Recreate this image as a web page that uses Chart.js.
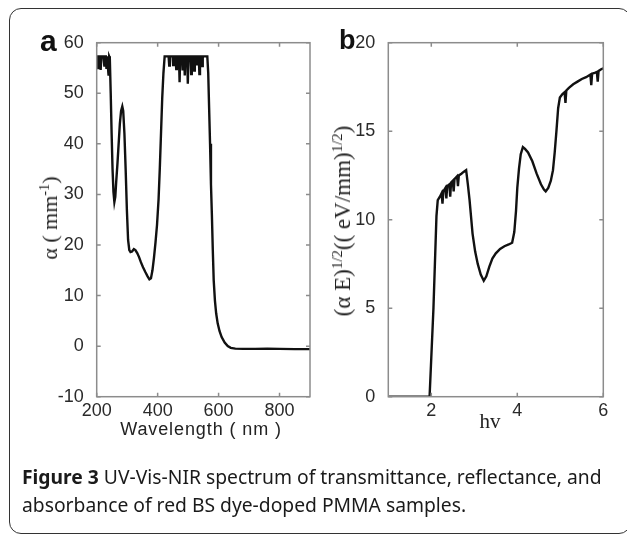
<!DOCTYPE html>
<html>
<head>
<meta charset="utf-8">
<script src="https://cdn.jsdelivr.net/npm/chart.js@4/dist/chart.umd.min.js"></script>
<style>
  html,body{margin:0;padding:0;background:#fff;}
  body{width:627px;height:535px;position:relative;overflow:hidden;}
  canvas{position:absolute;left:0;top:0;}
  #frame{position:absolute;left:9px;top:8px;width:620px;height:524px;border:1.5px solid #333;border-radius:12px;}
  .lbl{position:absolute;white-space:nowrap;color:#222;}
  .panel{font-family:"Liberation Sans",Arial,sans-serif;font-weight:bold;color:#111;}
  .serif{font-family:"Liberation Serif","Times New Roman",serif;}
  .rot{transform:translate(-50%,-50%) rotate(-90deg);transform-origin:center center;}
  sup{font-size:65%;vertical-align:0.55em;line-height:0;}
  #caption{position:absolute;left:22px;top:463px;font-family:"Noto Sans","Open Sans",sans-serif;font-size:19.3px;line-height:28px;color:#1a1a1a;white-space:nowrap;}
</style>
</head>
<body>
<div id="frame"></div>
<canvas id="ca" width="627" height="535"></canvas>
<canvas id="cb" width="627" height="535"></canvas>

<div class="lbl panel" style="left:40px;top:24px;font-size:30px;">a</div>
<div class="lbl panel" style="left:339px;top:25px;font-size:27px;">b</div>

<div class="lbl" style="left:201px;top:429px;transform:translate(-50%,-50%);font-family:'Liberation Sans',Arial,sans-serif;font-size:18px;letter-spacing:0.9px;">Wavelength ( nm )</div>
<div class="lbl serif rot" style="left:50px;top:218px;font-size:22px;">α ( mm<sup>-1</sup>)</div>

<div class="lbl serif" style="left:490px;top:421px;transform:translate(-50%,-50%);font-size:21px;">hv</div>
<div class="lbl serif rot" style="left:343px;top:221px;font-size:23px;">(α E)<sup>1/2</sup>(( eV/mm)<sup>1/2</sup>)</div>

<div id="caption"><b>Figure 3</b> UV-Vis-NIR spectrum of transmittance, reflectance, and<br>absorbance of red BS dye-doped PMMA samples.</div>

<script>
// ---- Panel a: absorption coefficient vs wavelength ----
const wavelengthNm = [200,203,205,207,211,213,215,222,225,227,230,232,234,237,239,241,243,246,249,252,255,258,261,264,268,272,276,280,284,287,291,295,299,303,307,311,316,322,327,333,339,345,352,360,367,373,378,383,388,393,398,403,407,411,415,419,423,430,436,438,440,449,451,453,459,461,463,470,472,474,480,482,484,487,489,491,497,499,501,508,510,512,518,520,522,527,529,531,535,537,539,544,546,548,557,563,566,569,572,575,578,581,584,588,592,597,603,610,620,630,640,655,680,720,760,800,850,900];
const alphaMm = [57.3,57.3,55.0,57.3,57.3,54.6,57.3,57.3,55.5,57.3,57.3,54.8,57.3,57.3,53.5,57.3,57.0,50,42,35,30.5,28.5,29.5,32.5,36,40,44,46.5,47.4,46.5,42,35,27,21,19,18.6,18.7,19.2,19,18.4,17.6,16.6,15.6,14.6,13.8,13.2,13.4,15,17.5,20.5,24,29,35,42,49,54,57.3,57.3,57.3,55.5,57.3,57.3,55.6,57.3,57.3,54.8,57.3,57.3,52.2,57.3,57.3,54.5,57.3,57.3,53.5,57.3,57.3,51.9,57.3,57.3,53.8,57.3,57.3,54.5,57.3,57.3,55.5,57.3,57.3,53.8,57.3,57.3,55.4,57.3,57.3,57.3,54,47,40,32,26,19,13,9,6.5,4.5,3,1.8,0.7,0,-0.35,-0.5,-0.55,-0.55,-0.5,-0.55,-0.6,-0.6];
const xTicksA = [200,400,600,800];
const yTicksA = [-10,0,10,20,30,40,50,60];

// ---- Panel b: (alpha E)^1/2 vs photon energy ----
const photonEv = [1.0,1.5,1.96,2.05,2.12,2.15,2.2,2.24,2.26,2.28,2.33,2.35,2.37,2.42,2.44,2.46,2.5,2.52,2.54,2.6,2.62,2.64,2.7,2.75,2.81,2.85,2.89,2.96,3.02,3.08,3.15,3.22,3.28,3.35,3.42,3.5,3.6,3.7,3.8,3.88,3.93,3.97,4.0,4.04,4.08,4.13,4.18,4.25,4.35,4.45,4.55,4.62,4.66,4.72,4.78,4.83,4.87,4.91,4.95,4.99,5.05,5.1,5.12,5.14,5.2,5.3,5.4,5.5,5.6,5.7,5.72,5.74,5.8,5.85,5.87,5.89,5.95,6.0];
const tauc = [0,0,0,5.0,10.2,11.1,11.3,11.5,10.9,11.6,11.8,11.2,11.9,12.0,11.3,12.1,12.2,11.6,12.3,12.45,11.9,12.5,12.6,12.7,12.8,12.0,11.1,9.2,8.2,7.5,6.9,6.55,6.8,7.35,7.8,8.1,8.35,8.5,8.6,8.7,9.3,10.5,11.8,12.9,13.7,14.1,14.0,13.8,13.3,12.6,12.0,11.7,11.6,11.8,12.2,12.8,13.8,15.0,16.3,16.9,17.1,17.2,16.6,17.3,17.45,17.65,17.8,17.95,18.05,18.2,17.6,18.25,18.3,18.35,17.8,18.4,18.5,18.55];
const xTicksB = [2,4,6];
const yTicksB = [0,5,10,15,20];

const boxPlugin = {
  id: 'matlabBox',
  afterDraw(chart) {
    const {ctx, chartArea: a, scales} = chart;
    ctx.save();
    ctx.strokeStyle = '#8c8c8c';
    ctx.lineWidth = 1.5;
    ctx.strokeRect(a.left, a.top, a.right - a.left, a.bottom - a.top);
    const L = 4;
    ctx.beginPath();
    scales.x.ticks.forEach(t => {
      const px = scales.x.getPixelForValue(t.value);
      ctx.moveTo(px, a.bottom); ctx.lineTo(px, a.bottom - L);
      ctx.moveTo(px, a.top); ctx.lineTo(px, a.top + L);
    });
    scales.y.ticks.forEach(t => {
      const py = scales.y.getPixelForValue(t.value);
      ctx.moveTo(a.left, py); ctx.lineTo(a.left + L, py);
      ctx.moveTo(a.right, py); ctx.lineTo(a.right - L, py);
    });
    ctx.stroke();
    ctx.restore();
  }
};

function makeChart(id, xs, ys, cfg) {
  return new Chart(document.getElementById(id), {
    type: 'line',
    data: { datasets: [{ data: xs.map((x, i) => ({x: x, y: ys[i]})), borderColor: '#111', borderWidth: 2.4, pointRadius: 0, tension: 0, fill: false }] },
    options: {
      responsive: false, animation: false, events: [],
      layout: { padding: cfg.padding },
      plugins: { legend: { display: false }, tooltip: { enabled: false }, title: { display: false } },
      scales: {
        x: {
          type: 'linear', min: cfg.xMin, max: cfg.xMax,
          grid: { display: false }, border: { display: false },
          ticks: { padding: cfg.xPad, color: '#2a2a2a', font: { family: 'Liberation Sans', size: cfg.fontSize }, maxRotation: 0, autoSkip: false },
          afterBuildTicks: s => { s.ticks = cfg.xTicks.map(v => ({value: v})); },
          afterFit: s => { s.height = 33.3; }
        },
        y: {
          type: 'linear', min: cfg.yMin, max: cfg.yMax,
          grid: { display: false }, border: { display: false },
          ticks: { padding: 5, color: '#2a2a2a', font: { family: 'Liberation Sans', size: cfg.fontSize } },
          afterBuildTicks: s => { s.ticks = cfg.yTicks.map(v => ({value: v})); },
          afterFit: s => { s.width = cfg.yWidth; }
        }
      }
    },
    plugins: [boxPlugin]
  });
}

makeChart('ca', wavelengthNm, alphaMm, {
  padding: {left: 0, right: 317, top: 42.7, bottom: 105},
  xMin: 200, xMax: 900, yMin: -10, yMax: 60,
  xTicks: xTicksA, yTicks: yTicksA, yWidth: 96.7, fontSize: 18, xPad: -4
});
makeChart('cb', photonEv, tauc, {
  padding: {left: 320, right: 23.7, top: 42.7, bottom: 105},
  xMin: 1, xMax: 6, yMin: 0, yMax: 20,
  xTicks: xTicksB, yTicks: yTicksB, yWidth: 68.3, fontSize: 18, xPad: -4
});
</script>
</body>
</html>
